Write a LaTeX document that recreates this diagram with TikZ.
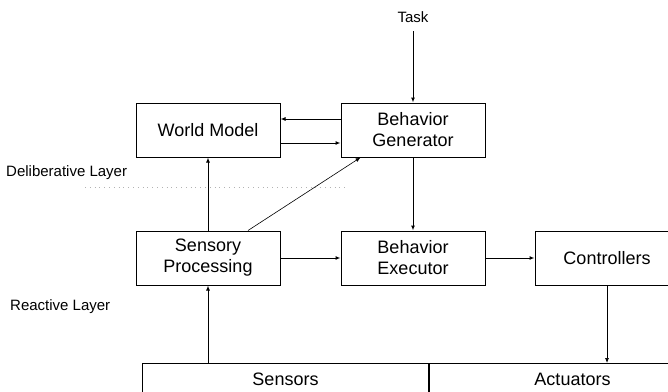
\documentclass[tikz,border=0pt]{standalone}
\usepackage{fontspec}
\setmainfont{Liberation Sans}
\usetikzlibrary{positioning,arrows.meta}

\tikzset{
  box/.style={draw, line width=1pt, minimum width=144pt, minimum height=54pt,
              align=center, font=\fontsize{18}{21}\selectfont},
  wide/.style={draw, line width=1pt, minimum width=286pt, minimum height=32pt,
               inner sep=0pt, font=\fontsize{18}{21}\selectfont},
  layer/.style={font=\fontsize{15}{18}\selectfont, anchor=west, inner sep=0pt},
  link/.style={-{Latex[length=5pt,width=4pt]}, line width=1pt}
}

\begin{document}
\begin{tikzpicture}[x=1pt, y=-1pt]
\useasboundingbox (0,0) rectangle (668,391);

% Nodes
% deliberative layer
\node[box](wm) at (208,130) {World Model};
\node[box, right = 60pt of wm](bg){Behavior\\Generator};
\node[font=\fontsize{15}{18}\selectfont](task) at (413,17) {Task};

% reactive layer
\node[box, below = 73pt of wm](sp){Sensory\\Processing};
\node[box, right = 60pt of sp](be){Behavior\\Executor};
\node[box, right = 49pt of be](ctrl){Controllers};
\node[wide, anchor=north west](sensors) at (142,363) {Sensors};
\node[wide, right = 0pt of sensors](act){Actuators};

\node[layer](delib) at (6,173) {Deliberative Layer};
\node[layer](react) at (10,307) {Reactive Layer};
\draw[gray!60, loosely dotted, line width=0.8pt] (85,187) -- (345,187);

% Edges
\draw[link, shorten <=5pt] (task.south) -- (bg.north);
\draw[link] ([yshift=11pt]bg.west) -- ([yshift=11pt]wm.east);
\draw[link] ([yshift=-13pt]wm.east) -- ([yshift=-13pt]bg.west);
\draw[link] (sp.north) -- (wm.south);
\draw[link, line width=0.6pt] ([xshift=40pt]sp.north) -- ([xshift=20pt]bg.south west);
\draw[link] (bg.south) -- (be.north);
\draw[link] (sp.east) -- (be.west);
\draw[link] (be.east) -- (ctrl.west);
\draw[link, line width=0.7pt] (ctrl.south) -- (ctrl.south |- act.north);
\draw[link] (sp.south |- sensors.north) -- (sp.south);

\end{tikzpicture}
\end{document}
